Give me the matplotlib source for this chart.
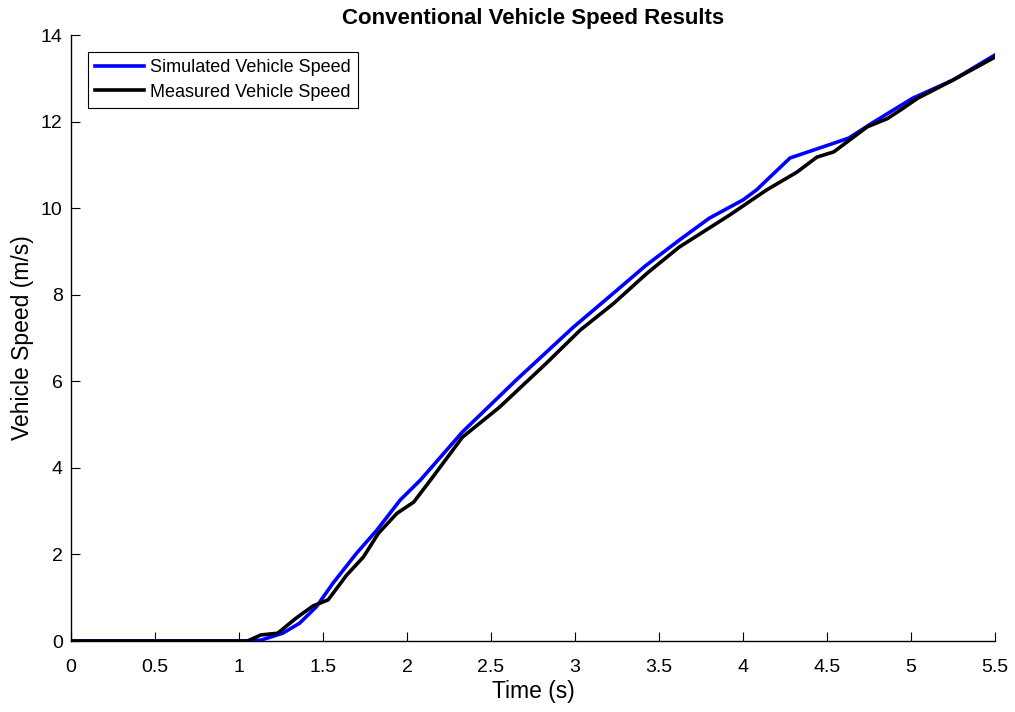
import matplotlib
matplotlib.use("Agg")
import matplotlib.pyplot as plt

plt.rcParams['font.family'] = ['Liberation Sans', 'DejaVu Sans']

# simulated speed (m/s) vs time (s)
t_sim = [0, 1.05, 1.13, 1.26, 1.36, 1.46, 1.56, 1.70, 1.82, 1.96, 2.08, 2.33,
         2.65, 2.99, 3.23, 3.42, 3.62, 3.80, 4.00, 4.08, 4.28, 4.54, 4.63,
         4.77, 5.01, 5.25, 5.50]
v_sim = [0, 0, 0.02, 0.18, 0.41, 0.79, 1.34, 2.03, 2.56, 3.26, 3.72, 4.83,
         6.03, 7.25, 8.04, 8.67, 9.26, 9.77, 10.19, 10.42, 11.16, 11.50, 11.62,
         11.97, 12.54, 12.96, 13.54]

# measured speed (m/s) vs time (s)
t_meas = [0, 1.05, 1.13, 1.23, 1.34, 1.44, 1.53, 1.64, 1.74, 1.83, 1.94, 2.04,
          2.14, 2.33, 2.55, 2.83, 3.03, 3.23, 3.43, 3.62, 3.92, 4.14, 4.32,
          4.44, 4.54, 4.74, 4.86, 4.95, 5.04, 5.25, 5.50]
v_meas = [0, 0, 0.14, 0.18, 0.53, 0.81, 0.95, 1.52, 1.94, 2.49, 2.95, 3.21,
          3.72, 4.71, 5.40, 6.42, 7.18, 7.80, 8.50, 9.10, 9.84, 10.42, 10.83,
          11.18, 11.30, 11.88, 12.07, 12.30, 12.54, 12.96, 13.49]

xticks = [0, 0.5, 1, 1.5, 2, 2.5, 3, 3.5, 4, 4.5, 5, 5.5]
yticks = [0, 2, 4, 6, 8, 10, 12, 14]

fig = plt.figure(figsize=(10.15, 7.12), dpi=100)
ax = fig.add_axes([0.07, 0.0997, 0.9103, 0.8511])

ax.plot(t_sim, v_sim, color='#0000ff', linewidth=2.6, label='Simulated Vehicle Speed')
ax.plot(t_meas, v_meas, color='black', linewidth=2.6, label='Measured Vehicle Speed')

ax.set_xlim(0, 5.5)
ax.set_ylim(0, 14)
ax.set_xticks(xticks)
ax.set_xticklabels([f'{x:g}' for x in xticks])
ax.set_yticks(yticks)
ax.tick_params(direction='in', length=6.5, width=0.8, labelsize=14)
ax.tick_params(axis='x', pad=13)
ax.tick_params(axis='y', pad=6)

for side in ('top', 'right'):
    ax.spines[side].set_visible(False)
for side in ('left', 'bottom'):
    ax.spines[side].set_linewidth(1.0)

ax.set_xlabel('Time (s)', fontsize=16.5, labelpad=3)
ax.set_ylabel('Vehicle Speed (m/s)', fontsize=16.5, labelpad=5)
ax.set_title('Conventional Vehicle Speed Results', fontsize=16, fontweight='bold', pad=8)

leg = ax.legend(loc='upper left', fontsize=13, handlelength=2.7, handletextpad=0.3,
                borderpad=0.4, labelspacing=0.4, fancybox=False, framealpha=1,
                edgecolor='black', borderaxespad=0.95)
leg.get_frame().set_linewidth(0.8)

fig.savefig('out.png', dpi=100)
